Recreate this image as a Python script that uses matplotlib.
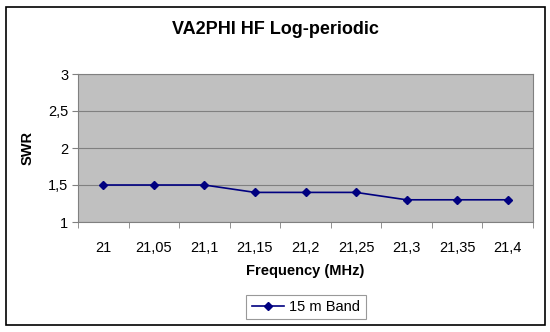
import numpy as np
import matplotlib.pyplot as plt
from matplotlib.patches import Rectangle

# data
freq_labels = ['21', '21,05', '21,1', '21,15', '21,2', '21,25', '21,3', '21,35', '21,4']
swr = [1.5, 1.5, 1.5, 1.4, 1.4, 1.4, 1.3, 1.3, 1.3]
y_ticks = [1, 1.5, 2, 2.5, 3]
y_tick_labels = ['1', '1,5', '2', '2,5', '3']

plt.rcParams['font.family'] = ['Liberation Sans', 'DejaVu Sans']

fig = plt.figure(figsize=(5.5, 3.32), dpi=100)
fig.patch.set_facecolor('white')
# outer chart border
fig.add_artist(Rectangle((6/550, 1 - 325/332), 539/550, 318/332, transform=fig.transFigure,
                         fill=False, edgecolor='black', linewidth=1.2))

ax = fig.add_axes([78/550, 1 - 222/332, 455/550, 148/332])
ax.set_facecolor('#C0C0C0')

x = np.arange(len(swr))
ax.plot(x, swr, color='#000080', marker='D', markersize=4.5, linewidth=1.2, label='15 m Band')

ax.set_xlim(-0.5, len(swr) - 0.5)
ax.set_ylim(1, 3)
ax.set_yticks(y_ticks)
ax.set_yticklabels(y_tick_labels, fontsize=10.5)
ax.set_xticks(x)
ax.set_xticklabels(freq_labels, fontsize=10.5)
ax.set_xticks(np.arange(-0.5, len(swr)), minor=True)
ax.tick_params(axis='x', which='major', length=0, pad=14)
ax.tick_params(axis='x', which='minor', length=4, direction='out', color='#808080')
ax.tick_params(axis='y', length=4, color='#808080', pad=3)
ax.grid(axis='y', color='#808080', linewidth=0.8)
ax.set_axisbelow(True)
for side in ['top', 'right', 'left', 'bottom']:
    ax.spines[side].set_color('#808080')

fig.text(275/550, 1 - 30/332, 'VA2PHI HF Log-periodic', fontsize=13, fontweight='bold',
         ha='center', va='center')
ax.set_xlabel('Frequency (MHz)', fontsize=10.5, fontweight='bold', labelpad=6)
ax.set_ylabel('SWR', fontsize=10.5, fontweight='bold', labelpad=10)

leg = fig.legend(loc='center', bbox_to_anchor=(306/550, 1 - 307/332), fontsize=10.5,
                 frameon=True, fancybox=False, edgecolor='#808080', handlelength=2.2,
                 handletextpad=0.4, borderpad=0.35)
leg.get_frame().set_linewidth(0.8)

plt.savefig('out.png', dpi=100)
